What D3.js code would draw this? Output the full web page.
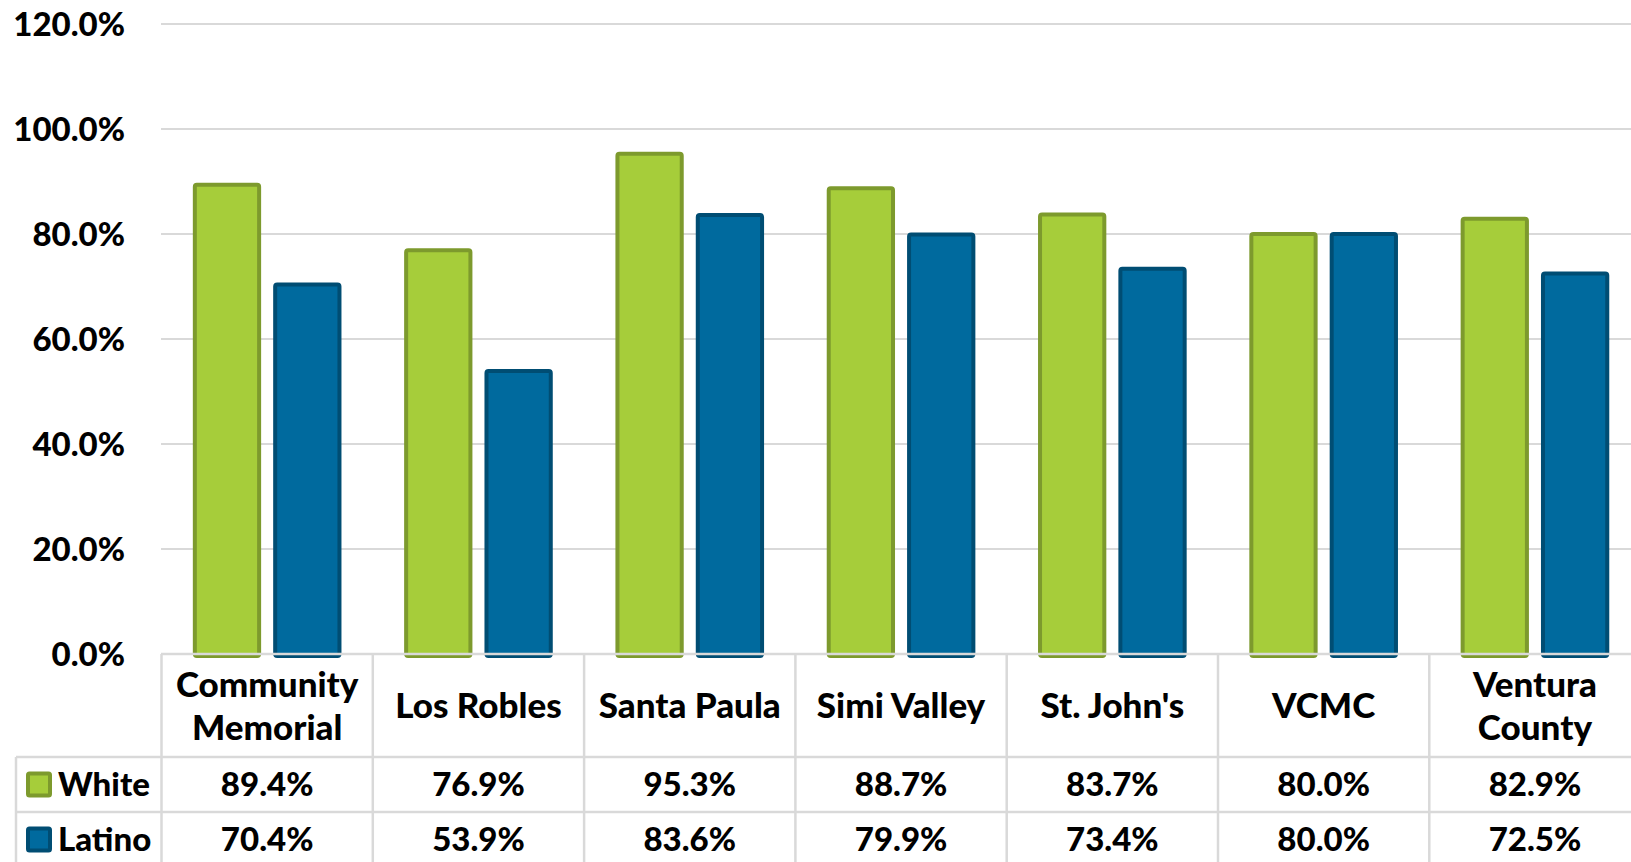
<!DOCTYPE html>
<html>
<head>
<meta charset="utf-8">
<script src="https://cdn.jsdelivr.net/npm/d3@7"></script>
<style>
  body { margin: 0; background: #fff; overflow: hidden; }
  svg text { font-family: Lato, "Open Sans", sans-serif; font-weight: 900; fill: #000; }
</style>
</head>
<body>
<div id="chart"></div>
<script>
// data
const hospitals = ["Community Memorial", "Los Robles", "Santa Paula", "Simi Valley", "St. John's", "VCMC", "Ventura County"];
const groups = ["White", "Latino"];
const white = [89.4, 76.9, 95.3, 88.7, 83.7, 80.0, 82.9];
const latino = [70.4, 53.9, 83.6, 79.9, 73.4, 80.0, 72.5];
const yTicks = [0, 20, 40, 60, 80, 100, 120];

const fills = { White: "#a6cd3a", Latino: "#006a9e" };
const strokes = { White: "#7d9a2d", Latino: "#004d73" };
const gridColor = "#d9d9d9";

const W = 1631, H = 862;
const svg = d3.select("#chart").append("svg")
    .attr("width", W)
    .attr("height", H);

const rows = hospitals.map((h, i) => ({ name: h, White: white[i], Latino: latino[i] }));

// scales
const y = d3.scaleLinear().domain([0, 120]).range([654, 24]);
const x0 = d3.scaleBand().domain(hospitals).range([161.5, 161.5 + 7 * 211.3]).padding(0);
const x1 = d3.scaleBand().domain(groups).range([0, x0.bandwidth()])
    .paddingInner(0.15).paddingOuter(0.39);

// gridlines (skip zero, that one is the table top)
svg.append("g").selectAll("line")
    .data(yTicks.filter(d => d > 0))
    .enter().append("line")
    .attr("x1", 161).attr("x2", W)
    .attr("y1", d => y(d)).attr("y2", d => y(d))
    .attr("stroke", gridColor).attr("stroke-width", 2);

// y tick labels
svg.append("g").selectAll("text")
    .data(yTicks)
    .enter().append("text")
    .attr("x", 125)
    .attr("y", d => y(d))
    .attr("dy", "0.36em")
    .attr("text-anchor", "end")
    .style("font-size", "33px")
    .text(d => d3.format(".1f")(d) + "%");

// bars
const grp = svg.append("g").selectAll("g")
    .data(rows)
    .enter().append("g")
    .attr("transform", d => `translate(${x0(d.name)},0)`);

grp.selectAll("rect")
    .data(d => groups.map(k => ({ key: k, value: d[k] })))
    .enter().append("rect")
    .attr("x", d => x1(d.key) + 2)
    .attr("width", x1.bandwidth() - 4)
    .attr("y", d => y(d.value))
    .attr("height", d => y(0) - y(d.value) + 2)
    .attr("rx", 2)
    .attr("fill", d => fills[d.key])
    .attr("stroke", d => strokes[d.key])
    .attr("stroke-width", 4);

// data table
const tableTop = y(0), row1 = 757, row2 = 812;
const tbl = svg.append("g")
    .attr("stroke", gridColor).attr("stroke-width", 2.5);

tbl.append("line").attr("x1", 161).attr("x2", W).attr("y1", tableTop).attr("y2", tableTop);
tbl.append("line").attr("x1", 16).attr("x2", W).attr("y1", row1).attr("y2", row1);
tbl.append("line").attr("x1", 16).attr("x2", W).attr("y1", row2).attr("y2", row2);
tbl.append("line").attr("x1", 16).attr("x2", 16).attr("y1", row1).attr("y2", H);
tbl.selectAll(".vline")
    .data(hospitals.concat(["end"]))
    .enter().append("line")
    .attr("x1", (d, i) => x0.range()[0] + i * x0.step())
    .attr("x2", (d, i) => x0.range()[0] + i * x0.step())
    .attr("y1", tableTop).attr("y2", H);

// category labels
const catLabels = svg.append("g").selectAll("text")
    .data(hospitals)
    .enter().append("text")
    .attr("text-anchor", "middle")
    .style("font-size", "35px")
    .attr("transform", d => `translate(${x0(d) + x0.bandwidth() / 2},${(tableTop + row1) / 2})`);

catLabels.each(function(d) {
    const words = d === "Community Memorial" || d === "Ventura County" ? d.split(" ") : [d];
    const t = d3.select(this);
    words.forEach((w, i) => {
        t.append("tspan")
            .attr("x", 0)
            .attr("y", (i - (words.length - 1) / 2) * 43)
            .attr("dy", "0.36em")
            .text(w);
    });
});

// value rows with legend keys
const series = [
    { key: "White", vals: white, mid: (row1 + row2) / 2 },
    { key: "Latino", vals: latino, mid: row2 + 27.5 }
];

series.forEach(s => {
    svg.append("rect")
        .attr("x", 28).attr("y", s.mid - 11)
        .attr("width", 22).attr("height", 22)
        .attr("rx", 1.5)
        .attr("fill", fills[s.key])
        .attr("stroke", strokes[s.key])
        .attr("stroke-width", 4);
    svg.append("text")
        .attr("x", 58).attr("y", s.mid)
        .attr("dy", "0.36em")
        .style("font-size", "33px")
        .text(s.key);
    svg.append("g").selectAll("text")
        .data(s.vals)
        .enter().append("text")
        .attr("x", (d, i) => x0(hospitals[i]) + x0.bandwidth() / 2)
        .attr("y", s.mid)
        .attr("dy", "0.36em")
        .attr("text-anchor", "middle")
        .style("font-size", "33px")
        .text(d => d.toFixed(1) + "%");
});
</script>
</body>
</html>
